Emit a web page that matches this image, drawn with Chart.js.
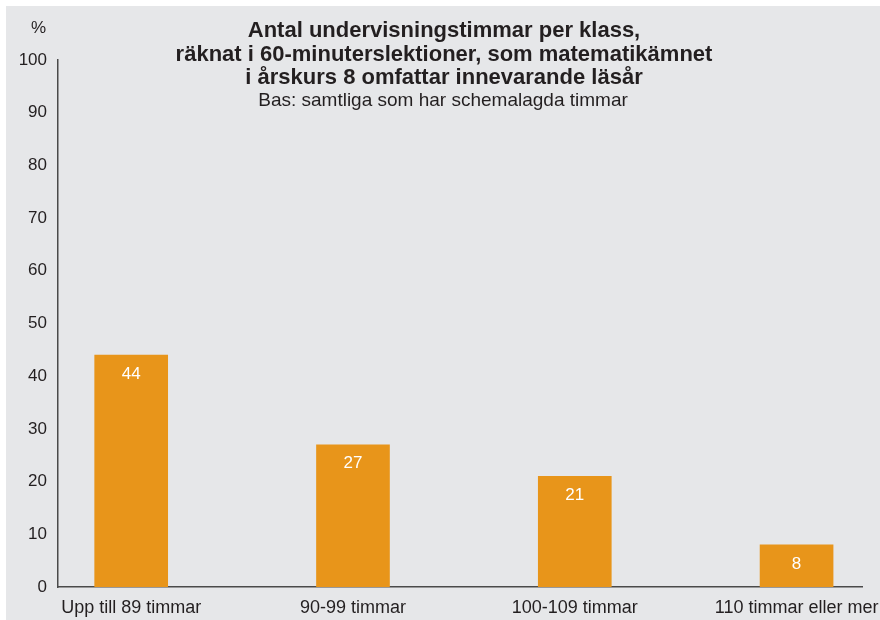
<!DOCTYPE html>
<html>
<head>
<meta charset="utf-8">
<script src="https://cdn.jsdelivr.net/npm/chart.js@4.4.1/dist/chart.umd.min.js"></script>
<style>
  html, body { margin: 0; padding: 0; background: #fff; }
  #wrap { width: 880px; height: 620px; }
</style>
</head>
<body>
<div id="wrap"><canvas id="timmarChart" width="880" height="620"></canvas></div>
<script>
// data
var categories = ['Upp till 89 timmar', '90-99 timmar', '100-109 timmar', '110 timmar eller mer'];
var values = [44, 27, 21, 8];
var yTicks = [0, 10, 20, 30, 40, 50, 60, 70, 80, 90, 100];
var titleLines = [
    'Antal undervisningstimmar per klass,',
    'räknat i 60-minuterslektioner, som matematikämnet',
    'i årskurs 8 omfattar innevarande läsår'
];
var subtitle = 'Bas: samtliga som har schemalagda timmar';
var unitLabel = '%';

var FONT = '"Liberation Sans", Arial, Helvetica, sans-serif';
var TEXT = '#231f20';

// gray panel behind everything + title text + value labels
var decorPlugin = {
    id: 'decor',
    beforeDraw: function(chart) {
        var c = chart.ctx;
        c.save();
        c.fillStyle = '#e6e7e9';
        c.fillRect(6, 6, chart.width - 6, chart.height - 6);
        c.restore();
    },
    afterDraw: function(chart) {
        var c = chart.ctx;
        c.save();
        c.fillStyle = TEXT;
        c.textAlign = 'center';
        c.textBaseline = 'middle';
        c.font = 'bold 22px ' + FONT;
        titleLines.forEach(function(line, i) {
            c.fillText(line, 444, 31 + i * 23.5);
        });
        c.font = '19px ' + FONT;
        c.fillText(subtitle, 443, 101);

        // unit above the y axis
        c.font = '17px ' + FONT;
        c.textAlign = 'right';
        c.fillText(unitLabel, 46, 28);

        // values inside bars
        c.fillStyle = '#ffffff';
        c.textAlign = 'center';
        c.font = '17px ' + FONT;
        chart.getDatasetMeta(0).data.forEach(function(bar, i) {
            c.fillText(String(values[i]), bar.x, bar.y + 19);
        });
        c.restore();
    }
};

var ctx = document.getElementById('timmarChart').getContext('2d');
var timmarChart = new Chart(ctx, {
    type: 'bar',
    data: {
        datasets: [{
            data: values.map(function(v, i) { return { x: i, y: v }; }),
            backgroundColor: '#e8951a',
            borderWidth: 0,
            barThickness: 73
        }]
    },
    options: {
        responsive: false,
        animation: false,
        layout: {
            padding: { left: 0, right: 18, top: 60, bottom: 0 }
        },
        plugins: {
            legend: { display: false },
            tooltip: { enabled: false }
        },
        scales: {
            x: {
                type: 'linear',
                offset: false,
                min: -0.33,
                max: 3.295,
                afterBuildTicks: function(scale) {
                    scale.ticks = categories.map(function(c, i) { return { value: i }; });
                },
                afterFit: function(scale) {
                    scale.height = 33;
                    scale.paddingLeft = 0;
                    scale.paddingRight = 0;
                },
                grid: { display: false, drawTicks: false, offset: false },
                border: { display: true, color: '#4a4a4a', width: 1.5 },
                ticks: {
                    padding: 10,
                    color: TEXT,
                    font: { family: FONT, size: 18 },
                    maxRotation: 0,
                    autoSkip: false,
                    callback: function(value) { return categories[value]; }
                }
            },
            y: {
                min: 0,
                max: 100,
                afterBuildTicks: function(scale) {
                    scale.ticks = yTicks.map(function(v) { return { value: v }; });
                },
                afterFit: function(scale) { scale.width = 58; },
                grid: { display: false, drawTicks: false },
                border: { display: true, color: '#4a4a4a', width: 1.5 },
                ticks: {
                    padding: 11,
                    color: TEXT,
                    font: { family: FONT, size: 17 }
                }
            }
        }
    },
    plugins: [decorPlugin]
});
</script>
</body>
</html>
